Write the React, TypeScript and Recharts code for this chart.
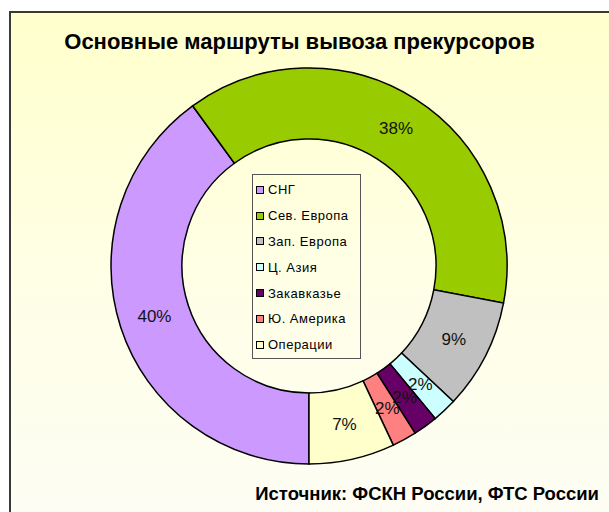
import React from "react";
import { PieChart, Pie, Cell, Legend } from "recharts";

const categories = ["СНГ", "Сев. Европа", "Зап. Европа", "Ц. Азия", "Закавказье", "Ю. Америка", "Операции"];
const shares = [40, 38, 9, 2, 2, 2, 7];
const colors = ["#CC99FF", "#99CC00", "#C0C0C0", "#CCFFFF", "#660066", "#FF8080", "#FFFFCC"];
const title = "Основные маршруты вывоза прекурсоров";
const source = "Источник: ФСКН России, ФТС России";

const data = categories.map((name, i) => ({ name, value: shares[i] }));
const FONT = "'Liberation Sans', Arial, sans-serif";
const RAD = Math.PI / 180;

const renderLabel = (props: any) => {
  const { cx, cy, midAngle, innerRadius, outerRadius, percent } = props;
  const r = (innerRadius + outerRadius) / 2;
  const x = cx + r * Math.cos(-midAngle * RAD);
  const y = cy + r * Math.sin(-midAngle * RAD);
  return (
    <text x={x} y={y} textAnchor="middle" dominantBaseline="central" fontSize={17} fontFamily={FONT} fill="#111">
      {`${Math.round(percent * 100)}%`}
    </text>
  );
};

const LegendContent = () => {
  return (
    <div style={{ border: "1px solid #555", width: 107, height: 181, boxSizing: "content-box", paddingTop: 2 }}>
      {categories.map((name, i) => (
        <div key={name} style={{ display: "flex", alignItems: "center", height: 25.8, fontFamily: FONT, fontSize: 13, color: "#000", letterSpacing: 0.5, whiteSpace: "nowrap" }}>
          <span style={{ display: "inline-block", width: 6, height: 6, border: "1px solid #000", background: colors[i], marginLeft: 3, marginRight: 4, flexShrink: 0 }} />
          <span>{name}</span>
        </div>
      ))}
    </div>
  );
};

export default function App() {
  return (
    <div style={{ position: "absolute", left: 0, top: 0, width: 609, height: 512, background: "#fff", overflow: "hidden" }}>
      <div style={{ position: "absolute", left: 9, top: 11, width: 620, height: 520, borderLeft: "2px solid #3a3a3a", borderTop: "2px solid #3a3a2a", background: "linear-gradient(to bottom, #FFFFCC 0%, #FFFFE6 50%, #FDFDF5 100%)" }} />
      <div style={{ position: "absolute", left: 0, width: 599, top: 29, textAlign: "center", fontFamily: FONT, fontWeight: "bold", fontSize: 22, color: "#000" }}>{title}</div>
      <div style={{ position: "absolute", right: 10, top: 483, fontFamily: FONT, fontWeight: "bold", fontSize: 18.5, color: "#000" }}>{source}</div>
      <div style={{ position: "absolute", left: 0, top: 0 }}>
        <PieChart width={609} height={512} margin={{ top: 0, right: 0, bottom: 0, left: 0 }}>
          <Pie
            data={data}
            dataKey="value"
            nameKey="name"
            cx={309}
            cy={266}
            innerRadius={127}
            outerRadius={198}
            startAngle={-90}
            endAngle={-450}
            stroke="#000"
            strokeWidth={1.5}
            label={renderLabel}
            labelLine={false}
            isAnimationActive={false}
          >
            {data.map((d, i) => (
              <Cell key={d.name} fill={colors[i]} />
            ))}
          </Pie>
          <Legend
            layout="vertical"
            content={<LegendContent />}
            wrapperStyle={{ position: "absolute", left: 252, top: 174, width: 109, height: 184 }}
          />
        </PieChart>
      </div>
    </div>
  );
}
